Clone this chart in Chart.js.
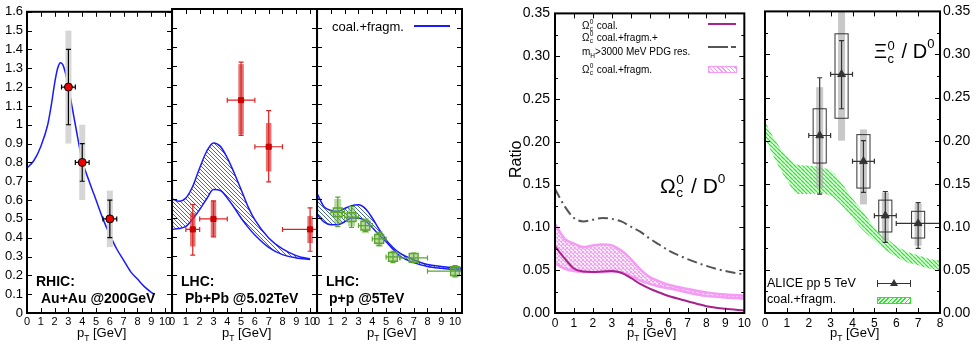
<!DOCTYPE html>
<html>
<head>
<meta charset="utf-8">
<script src="https://cdn.jsdelivr.net/npm/chart.js@4.4.1/dist/chart.umd.min.js"></script>
<style>
  body { margin: 0; background: #fff; width: 978px; height: 344px; overflow: hidden; position: relative; }
  canvas { position: absolute; top: 0; }
  .t { position: absolute; white-space: nowrap; line-height: 1; color: #000; font-family: "Liberation Sans", Arial, sans-serif; }
  .b { font-weight: bold; }
  .sb { font-size: .65em; position: relative; top: .45em; }
  .sp { font-size: .65em; position: relative; top: -.75em; }
  .ss { position: relative; display: inline-block; width: .45em; height: 1em; }
  .ss i { font-style: normal; position: absolute; left: .04em; font-size: .65em; line-height: 1; }
  .ss .u { top: 3%; }
  .ss .d { top: 68%; }
  .s { position: absolute; }
</style>
</head>
<body>
<canvas id="c1" width="178" height="344" style="left:0px"></canvas>
<canvas id="c2" width="156" height="344" style="left:167px"></canvas>
<canvas id="c3" width="160" height="344" style="left:312px"></canvas>
<canvas id="cA" width="239" height="344" style="left:515px"></canvas>
<canvas id="cB" width="221" height="344" style="left:757px"></canvas>

<!-- left figure texts -->
<div class="t b" style="left:36px;top:274px;font-size:14px">RHIC:</div>
<div class="t b" style="left:41px;top:291px;font-size:14px">Au+Au @200GeV</div>
<div class="t b" style="left:181px;top:274px;font-size:14px">LHC:</div>
<div class="t b" style="left:185px;top:291px;font-size:14px">Pb+Pb @5.02TeV</div>
<div class="t b" style="left:326px;top:274px;font-size:14px">LHC:</div>
<div class="t b" style="left:329px;top:291px;font-size:14px">p+p @5TeV</div>
<div class="t" style="left:332px;top:20px;font-size:13px">coal.+fragm.</div>
<div class="s" style="left:414px;top:25px;width:36px;height:2px;background:#1a1aff"></div>
<div class="t" style="left:77px;top:326px;font-size:13px">p<span class="sb">T</span> [GeV]</div>
<div class="t" style="left:222px;top:326px;font-size:13px">p<span class="sb">T</span> [GeV]</div>
<div class="t" style="left:367px;top:326px;font-size:13px">p<span class="sb">T</span> [GeV]</div>

<!-- right figure texts -->
<div class="t" style="left:508px;top:178px;font-size:16px;transform:rotate(-90deg);transform-origin:0 0">Ratio</div>
<div class="t" style="left:582px;top:19px;font-size:10px">Ω<span class="ss"><i class="u">0</i><i class="d">c</i></span> coal.</div>
<div class="t" style="left:582px;top:31px;font-size:10px">Ω<span class="ss"><i class="u">0</i><i class="d">c</i></span> coal.+fragm.+</div>
<div class="t" style="left:582px;top:47px;font-size:10px">m<span class="sb">H</span>&gt;3000 MeV PDG res.</div>
<div class="t" style="left:582px;top:63px;font-size:10px">Ω<span class="ss"><i class="u">0</i><i class="d">c</i></span> coal.+fragm.</div>
<div class="s" style="left:708px;top:23px;width:28px;height:2px;background:#a8228c"></div>
<div class="s" style="left:708px;top:46px;width:20px;height:2px;background:#555"></div>
<div class="s" style="left:731px;top:46px;width:5px;height:2px;background:#555"></div>
<div class="s" style="left:708px;top:66px;width:27px;height:5px;border:1px solid #f59af5;background:repeating-linear-gradient(45deg,#f59af5 0 1px,#fff 1px 3px)"></div>
<div class="t" style="left:660px;top:172px;font-size:21px">Ω<span class="ss"><i class="u">0</i><i class="d">c</i></span> / D<span class="sp">0</span></div>
<div class="t" style="left:627px;top:326px;font-size:13px">p<span class="sb">T</span> [GeV]</div>

<div class="t" style="left:874px;top:38px;font-size:20px">Ξ<span class="ss"><i class="u">0</i><i class="d">c</i></span> / D<span class="sp">0</span></div>
<div class="t" style="left:767px;top:277px;font-size:12.5px">ALICE pp 5 TeV</div>
<div class="t" style="left:767px;top:293px;font-size:12.5px">coal.+fragm.</div>
<div class="s" style="left:877px;top:283px;width:34px;height:1px;background:#333"></div>
<div class="s" style="left:877px;top:280px;width:1px;height:7px;background:#333"></div>
<div class="s" style="left:910px;top:280px;width:1px;height:7px;background:#333"></div>
<div class="s" style="left:890px;top:279px;width:0;height:0;border-left:4px solid transparent;border-right:4px solid transparent;border-bottom:7px solid #333"></div>
<div class="s" style="left:877px;top:297px;width:32px;height:5px;border:1px solid #22ee22;background:repeating-linear-gradient(-45deg,#22ee22 0 1.2px,#fff 1.2px 3px)"></div>
<div class="t" style="left:830px;top:326px;font-size:13px">p<span class="sb">T</span> [GeV]</div>

<script>
Chart.defaults.font.family = '"Liberation Sans", Arial, sans-serif';
Chart.defaults.color = '#000';

// RHIC Au+Au 200 GeV
const rhicCurveX = [0, 0.5, 1, 1.5, 1.75, 2, 2.2, 2.35, 2.45, 2.6, 2.8, 3, 3.5, 4, 4.5, 5, 5.5, 6, 6.5, 7, 7.5, 8, 8.5, 9, 9.2];
const rhicCurveY = [0.77, 0.81, 0.885, 1.0, 1.1, 1.22, 1.295, 1.325, 1.33, 1.318, 1.27, 1.2, 1.0, 0.81, 0.7, 0.6, 0.5, 0.415, 0.34, 0.28, 0.22, 0.18, 0.14, 0.11, 0.1];
const rhicX = [3, 4, 6];
const rhicY = [1.2, 0.8, 0.5];
const rhicXlo = [2.5, 3.5, 5.5];
const rhicXhi = [3.5, 4.5, 6.5];
const rhicStatLo = [1.0, 0.7, 0.4];
const rhicStatHi = [1.4, 0.9, 0.6];
const rhicSysLo = [0.9, 0.6, 0.35];
const rhicSysHi = [1.5, 1.0, 0.65];

// LHC Pb+Pb 5.02 TeV
const pbBandX = [0, 0.5, 1, 1.5, 2, 2.5, 3, 3.5, 4, 4.5, 5, 5.5, 6, 7, 8, 9, 10];
const pbBandLo = [0.44, 0.445, 0.456, 0.495, 0.544, 0.6, 0.65, 0.645, 0.605, 0.555, 0.5, 0.452, 0.41, 0.345, 0.307, 0.29, 0.281];
const pbBandHi = [0.6, 0.588, 0.605, 0.667, 0.763, 0.85, 0.895, 0.877, 0.816, 0.737, 0.65, 0.56, 0.49, 0.395, 0.337, 0.302, 0.284];
const pbX = [1.5, 3, 5, 7, 10];
const pbY = [0.44, 0.495, 1.12, 0.875, 0.44];
const pbXlo = [1, 2, 4, 6, 8];
const pbXhi = [2, 4, 6, 8, 12];
const pbStatLo = [0.305, 0.4, 0.935, 0.69, 0.325];
const pbStatHi = [0.57, 0.59, 1.32, 1.065, 0.553];
const pbSysLo = [0.35, 0.4, 0.94, 0.745, 0.368];
const pbSysHi = [0.527, 0.59, 1.31, 1.0, 0.51];

// LHC p+p 5 TeV
const ppBandX = [0, 0.5, 1, 1.5, 2, 2.5, 3, 3.5, 4, 4.5, 5, 5.5, 6, 7, 8, 9, 10, 10.5];
const ppBandLo = [0.52, 0.48, 0.465, 0.465, 0.48, 0.5, 0.5, 0.485, 0.45, 0.41, 0.375, 0.335, 0.3, 0.265, 0.245, 0.235, 0.228, 0.226];
const ppBandHi = [0.63, 0.56, 0.54, 0.535, 0.55, 0.565, 0.57, 0.55, 0.5, 0.44, 0.385, 0.345, 0.315, 0.28, 0.255, 0.245, 0.238, 0.236];
const ppX = [1.5, 2.5, 3.5, 4.5, 5.5, 7, 10];
const ppY = [0.53, 0.505, 0.46, 0.39, 0.295, 0.29, 0.22];
const ppXlo = [1, 2, 3, 4, 5, 6, 8];
const ppXhi = [2, 3, 4, 5, 6, 8, 12];
const ppStatLo = [0.455, 0.45, 0.43, 0.355, 0.265, 0.265, 0.19];
const ppStatHi = [0.61, 0.56, 0.49, 0.425, 0.325, 0.315, 0.25];
const ppSysLo = [0.47, 0.455, 0.42, 0.35, 0.27, 0.27, 0.19];
const ppSysHi = [0.6, 0.555, 0.5, 0.43, 0.32, 0.31, 0.25];

// Omega_c / D0
const omX = [0, 0.5, 1, 1.5, 2, 2.5, 3, 3.5, 4, 4.5, 5, 5.5, 6, 7, 8, 9, 10];
const omCoal = [0.078, 0.064, 0.052, 0.0485, 0.048, 0.0485, 0.049, 0.047, 0.041, 0.034, 0.0285, 0.024, 0.0198, 0.0138, 0.008, 0.005, 0.003];
const omRes = [0.145, 0.125, 0.111, 0.107, 0.109, 0.111, 0.11, 0.107, 0.101, 0.095, 0.087, 0.08, 0.073, 0.063, 0.055, 0.049, 0.045];
const omBandLo = [0.058, 0.052, 0.049, 0.048, 0.0478, 0.048, 0.0485, 0.0475, 0.043, 0.038, 0.034, 0.031, 0.029, 0.024, 0.02, 0.018, 0.017];
const omBandHi = [0.104, 0.087, 0.081, 0.077, 0.079, 0.08, 0.079, 0.073, 0.063, 0.051, 0.042, 0.037, 0.033, 0.028, 0.024, 0.0215, 0.0205];

// Xi_c / D0
const xiX = [0, 0.5, 1, 1.5, 2, 2.5, 3, 3.5, 4, 4.5, 5, 5.5, 6, 6.5, 7, 7.5, 8];
const xiBandLo = [0.203, 0.176, 0.154, 0.138, 0.138, 0.139, 0.136, 0.125, 0.11, 0.0956, 0.084, 0.073, 0.065, 0.059, 0.0555, 0.0516, 0.0497];
const xiBandHi = [0.222, 0.199, 0.182, 0.172, 0.171, 0.169, 0.165, 0.151, 0.133, 0.117, 0.0995, 0.088, 0.078, 0.071, 0.067, 0.063, 0.061];
const aliceX = [2.5, 3.5, 4.5, 5.5, 7];
const aliceY = [0.206, 0.277, 0.176, 0.113, 0.104];
const aliceXlo = [2, 3, 4, 5, 6];
const aliceXhi = [3, 4, 5, 6, 8];
const aliceStatLo = [0.138, 0.237, 0.14, 0.082, 0.075];
const aliceStatHi = [0.273, 0.316, 0.2, 0.141, 0.128];
const aliceBoxLo = [0.174, 0.226, 0.145, 0.094, 0.087];
const aliceBoxHi = [0.237, 0.324, 0.207, 0.131, 0.118];
const aliceSysLo = [0.145, 0.2, 0.126, 0.084, 0.078];
const aliceSysHi = [0.262, 0.35, 0.213, 0.14, 0.127];

const pts = (xs, ys) => xs.map((x, i) => ({ x, y: ys[i] }));

function hatch(size, color, lw, dirs) {
  const c = document.createElement('canvas');
  c.width = c.height = size;
  const g = c.getContext('2d');
  g.strokeStyle = color; g.lineWidth = lw; g.beginPath();
  for (const x0 of [-size, 0, size]) {
    if (dirs.includes('\\')) { g.moveTo(x0, 0); g.lineTo(x0 + size, size); }
    if (dirs.includes('/')) { g.moveTo(x0, size); g.lineTo(x0 + size, 0); }
  }
  g.stroke();
  return g.createPattern(c, 'repeat');
}
const blueHatch = hatch(4, '#4a6a9e', 1.0, '\\');
const greenHatch = hatch(4, '#22ee22', 1.3, '\\');
const pinkHatch = hatch(4, '#f59af5', 1.1, '\\/');

// error bars / systematic boxes, drawn just before the marker dataset
const errPlugin = {
  id: 'errbars',
  beforeDatasetDraw(chart, args) {
    const ds = chart.data.datasets[args.index];
    const e = ds.err;
    if (!e) return;
    const sx = chart.scales.x, sy = chart.scales.y, g = chart.ctx, a = chart.chartArea;
    const X = v => sx.getPixelForValue(v), Y = v => sy.getPixelForValue(v);
    g.save();
    g.beginPath(); g.rect(a.left, a.top, a.right - a.left, a.bottom - a.top); g.clip();
    ds.data.forEach((p, i) => {
      const px = X(p.x), py = Y(p.y);
      if (e.sysLo) {
        g.fillStyle = e.sysColor;
        g.fillRect(px - e.sysW / 2, Y(e.sysHi[i]), e.sysW, Y(e.sysLo[i]) - Y(e.sysHi[i]));
      }
      if (e.boxLo) {
        g.strokeStyle = e.boxColor; g.lineWidth = 1;
        const bx = X(p.x - e.boxHalf);
        g.strokeRect(bx, Y(e.boxHi[i]), X(p.x + e.boxHalf) - bx, Y(e.boxLo[i]) - Y(e.boxHi[i]));
      }
      const x0 = X(e.xlo[i]), x1 = X(e.xhi[i]), y0 = Y(e.yhi[i]), y1 = Y(e.ylo[i]), c = e.cap;
      g.strokeStyle = e.color; g.lineWidth = e.lw; g.beginPath();
      g.moveTo(x0, py); g.lineTo(x1, py);
      g.moveTo(x0, py - c); g.lineTo(x0, py + c);
      g.moveTo(x1, py - c); g.lineTo(x1, py + c);
      g.moveTo(px, y0); g.lineTo(px, y1);
      g.moveTo(px - c, y0); g.lineTo(px + c, y0);
      g.moveTo(px - c, y1); g.lineTo(px + c, y1);
      g.stroke();
    });
    g.restore();
  }
};

// gnuplot style frame with inward ticks on all four sides
const framePlugin = {
  id: 'frame',
  afterDraw(chart, args, o) {
    const g = chart.ctx, a = chart.chartArea, sx = chart.scales.x, sy = chart.scales.y;
    g.save();
    g.strokeStyle = '#000'; g.lineWidth = 1; g.beginPath();
    const vt = (v, len) => {
      const p = Math.round(sx.getPixelForValue(v)) + 0.5;
      g.moveTo(p, a.bottom); g.lineTo(p, a.bottom - len);
      g.moveTo(p, a.top); g.lineTo(p, a.top + len);
    };
    const ht = (v, len) => {
      const p = Math.round(sy.getPixelForValue(v)) + 0.5;
      g.moveTo(a.left, p); g.lineTo(a.left + len, p);
      g.moveTo(a.right, p); g.lineTo(a.right - len, p);
    };
    sx.ticks.forEach(t => vt(t.value, o.len));
    sy.ticks.forEach(t => ht(t.value, o.len));
    if (o.minorY) {
      const n = Math.round((sy.max - sy.min) / o.minorY);
      for (let k = 1; k < n; k += 2) ht(sy.min + k * o.minorY, o.len * 0.6);
    }
    g.stroke();
    g.lineWidth = o.lw;
    g.strokeRect(a.left, a.top, a.right - a.left, a.bottom - a.top);
    g.restore();
  }
};

function makeChart(id, datasets, o) {
  return new Chart(document.getElementById(id), {
    type: 'line',
    data: { datasets },
    options: {
      responsive: false,
      animation: false,
      devicePixelRatio: 1,
      layout: { autoPadding: false, padding: o.padding },
      plugins: { legend: { display: false }, tooltip: { enabled: false }, frame: o.frame },
      scales: {
        x: {
          type: 'linear', min: 0, max: o.xmax,
          grid: { display: false, drawTicks: false }, border: { display: false },
          ticks: { stepSize: 1, includeBounds: false, autoSkip: false, maxRotation: 0, padding: o.xpad, font: { size: o.xfont } },
          afterFit: s => { s.height = o.xH; }
        },
        y: {
          type: 'linear', position: o.ypos, min: 0, max: o.ymax,
          grid: { display: false, drawTicks: false }, border: { display: false },
          ticks: { display: o.ylabels, stepSize: o.ystep, includeBounds: false, autoSkip: false, padding: o.ypad,
                   font: { size: o.yfont }, callback: o.yfmt },
          afterFit: s => { s.width = o.yW; }
        }
      }
    },
    plugins: [errPlugin, framePlugin]
  });
}

const curve = (xs, ys, color, width, extra) => Object.assign({
  data: pts(xs, ys), borderColor: color, borderWidth: width, pointRadius: 0,
  cubicInterpolationMode: 'monotone', fill: false
}, extra || {});

const leftOpts = (yW, ylabels, right) => ({
  padding: { left: 0, right, top: 9, bottom: 0 }, xmax: 10.5, ymax: 1.6, ystep: 0.1,
  xH: 31, yW, ylabels, ypos: 'left', xpad: 2, ypad: 4, xfont: 11, yfont: 13,
  yfmt: undefined, frame: { len: 5, lw: 2 }
});

// panel 1: RHIC
makeChart('c1', [
  {
    data: pts(rhicX, rhicY), showLine: false, pointStyle: 'circle', pointRadius: 4,
    pointBackgroundColor: '#ee0000', pointBorderColor: '#000', pointBorderWidth: 1,
    err: { xlo: rhicXlo, xhi: rhicXhi, ylo: rhicStatLo, yhi: rhicStatHi, color: '#000', lw: 1.2, cap: 2.5,
           sysLo: rhicSysLo, sysHi: rhicSysHi, sysW: 6, sysColor: '#d6d6d6' }
  },
  curve(rhicCurveX, rhicCurveY, '#1a1aff', 1.5)
], leftOpts(27, true, 6));

// panel 2: Pb+Pb
makeChart('c2', [
  {
    data: pts(pbX, pbY), showLine: false, pointStyle: 'rect', pointRadius: 3.6,
    pointBackgroundColor: '#cc0000', pointBorderColor: '#cc0000', pointBorderWidth: 1,
    err: { xlo: pbXlo, xhi: pbXhi, ylo: pbStatLo, yhi: pbStatHi, color: '#dd2222', lw: 1.2, cap: 2.5,
           sysLo: pbSysLo, sysHi: pbSysHi, sysW: 5.5, sysColor: 'rgba(215,40,40,0.65)' }
  },
  curve(pbBandX, pbBandLo, '#1a1aff', 1.5),
  curve(pbBandX, pbBandHi, '#1a1aff', 1.5, { fill: '-1', backgroundColor: blueHatch })
], leftOpts(5, false, 6));

// panel 3: p+p
makeChart('c3', [
  {
    data: pts(ppX, ppY), showLine: false, pointStyle: 'rect', pointRadius: 6.2,
    pointBackgroundColor: 'rgba(0,0,0,0)', pointBorderColor: '#5aa52c', pointBorderWidth: 1.5,
    err: { xlo: ppXlo, xhi: ppXhi, ylo: ppStatLo, yhi: ppStatHi, color: '#5aa52c', lw: 1.2, cap: 2.5,
           sysLo: ppSysLo, sysHi: ppSysHi, sysW: 7, sysColor: 'rgba(120,185,80,0.55)' }
  },
  curve(ppBandX, ppBandLo, '#1a1aff', 1.5),
  curve(ppBandX, ppBandHi, '#1a1aff', 1.5, { fill: '-1', backgroundColor: blueHatch })
], leftOpts(5, false, 10));

// Omega_c / D0
makeChart('cA', [
  curve(omX, omCoal, '#a8228c', 2),
  curve(omX, omRes, '#555555', 2, { borderDash: [10, 4, 2, 4] }),
  curve(omX, omBandLo, '#f59af5', 2.5),
  curve(omX, omBandHi, '#f59af5', 2.5, { fill: '-1', backgroundColor: pinkHatch })
], {
  padding: { left: 0, right: 8, top: 8, bottom: 0 }, xmax: 10, ymax: 0.35, ystep: 0.05,
  xH: 31, yW: 40, ylabels: true, ypos: 'left', xpad: 3, ypad: 5, xfont: 12, yfont: 14,
  yfmt: v => v.toFixed(2), frame: { len: 5, lw: 2, minorY: 0.025 }
});

// Xi_c / D0
makeChart('cB', [
  {
    data: pts(aliceX, aliceY), showLine: false, pointStyle: 'triangle', pointRadius: 4.5,
    pointBackgroundColor: '#333', pointBorderColor: '#333', pointBorderWidth: 1,
    err: { xlo: aliceXlo, xhi: aliceXhi, ylo: aliceStatLo, yhi: aliceStatHi, color: '#333', lw: 1.2, cap: 2.5,
           sysLo: aliceSysLo, sysHi: aliceSysHi, sysW: 7, sysColor: 'rgba(170,170,170,0.65)',
           boxLo: aliceBoxLo, boxHi: aliceBoxHi, boxHalf: 0.3, boxColor: '#333' }
  },
  curve(xiX, xiBandLo, 'rgba(0,0,0,0)', 0),
  curve(xiX, xiBandHi, 'rgba(0,0,0,0)', 0, { fill: '-1', backgroundColor: greenHatch })
], {
  padding: { left: 8, right: 0, top: 8, bottom: 0 }, xmax: 8, ymax: 0.35, ystep: 0.05,
  xH: 31, yW: 38, ylabels: true, ypos: 'right', xpad: 3, ypad: 3, xfont: 12, yfont: 14,
  yfmt: v => v.toFixed(2), frame: { len: 5, lw: 2, minorY: 0.025 }
});
</script>
</body>
</html>
